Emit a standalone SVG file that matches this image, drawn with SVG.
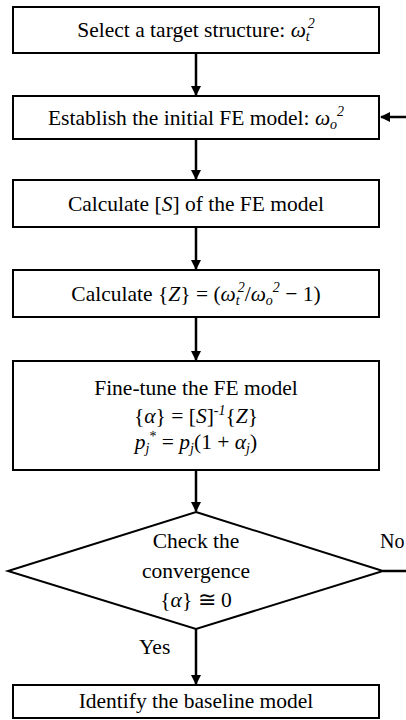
<svg xmlns="http://www.w3.org/2000/svg" width="406" height="720" viewBox="0 0 406 720">
<style>
.box{fill:#fff;stroke:#000;stroke-width:2}
.t{font-family:"Liberation Serif","Times New Roman",serif;font-size:21.5px;fill:#000;text-anchor:middle}
.tl{font-family:"Liberation Serif","Times New Roman",serif;font-size:21.5px;fill:#000}
.i{font-style:italic}
.s{font-size:14px}
.c{stroke:#000;stroke-width:2.5;fill:none}
</style>
<defs>
<marker id="ah" markerWidth="10" markerHeight="12" refX="9" refY="5" orient="auto" markerUnits="userSpaceOnUse">
<path d="M0,0 L10,5 L0,10 Z" fill="#000"/>
</marker>
</defs>
<rect width="406" height="720" fill="#fff"/>
<g id="connectors">
<line class="c" x1="196" y1="53" x2="196" y2="95" marker-end="url(#ah)"/>
<line class="c" x1="196" y1="139" x2="196" y2="179" marker-end="url(#ah)"/>
<line class="c" x1="196" y1="227" x2="196" y2="269" marker-end="url(#ah)"/>
<line class="c" x1="196" y1="317" x2="196" y2="360" marker-end="url(#ah)"/>
<line class="c" x1="196" y1="470" x2="196" y2="511" marker-end="url(#ah)"/>
<line class="c" x1="196" y1="629" x2="196" y2="684" marker-end="url(#ah)"/>
<line class="c" x1="383" y1="571" x2="406" y2="571"/>
<line class="c" x1="406" y1="117" x2="381" y2="117" marker-end="url(#ah)"/>
</g>
<g id="n1">
<rect class="box" x="13" y="7" width="366" height="46"/>
<text class="t" x="196" y="37">Select a target structure: <tspan class="i">ω</tspan><tspan class="i s" dy="4">t</tspan><tspan class="i s" dx="-2" dy="-13">2</tspan></text>
</g>
<g id="n2">
<rect class="box" x="13" y="96" width="366" height="43"/>
<text class="t" x="196" y="125">Establish the initial FE model: <tspan class="i">ω</tspan><tspan class="i s" dy="4">o</tspan><tspan class="i s" dy="-13">2</tspan></text>
</g>
<g id="n3">
<rect class="box" x="13" y="180" width="366" height="47"/>
<text class="t" x="196" y="211">Calculate [<tspan class="i">S</tspan>] of the FE model</text>
</g>
<g id="n4">
<rect class="box" x="13" y="270" width="366" height="47"/>
<text class="t" x="196" y="301">Calculate {<tspan class="i">Z</tspan>} = (<tspan class="i">ω</tspan><tspan class="i s" dy="4">t</tspan><tspan class="i s" dx="-2" dy="-13">2</tspan><tspan dy="9">/</tspan><tspan class="i">ω</tspan><tspan class="i s" dy="4">o</tspan><tspan class="i s" dy="-13">2</tspan><tspan dy="9"> − 1)</tspan></text>
</g>
<g id="n5">
<rect class="box" x="13" y="361" width="366" height="109"/>
<text class="t" x="196" y="395">Fine-tune the FE model</text>
<text class="t" x="196" y="423">{<tspan class="i">α</tspan>} = [<tspan class="i">S</tspan>]<tspan class="i s" dy="-8">-1</tspan><tspan dy="8">{</tspan><tspan class="i">Z</tspan>}</text>
<text class="t" x="196" y="449"><tspan class="i">p</tspan><tspan class="i s" dy="4">j</tspan><tspan class="s" dy="-12">*</tspan><tspan dy="8"> = </tspan><tspan class="i">p</tspan><tspan class="i s" dy="4">j</tspan><tspan dy="-4">(1 + </tspan><tspan class="i">α</tspan><tspan class="i s" dy="4">j</tspan><tspan dy="-4">)</tspan></text>
</g>
<g id="n6">
<polygon class="box" points="196,512 383,571 196,629 8,571"/>
<text class="t" x="196" y="548">Check the</text>
<text class="t" x="196" y="578">convergence</text>
<text class="t" x="196" y="607">{<tspan class="i">α</tspan>} ≅ 0</text>
</g>
<g id="n7">
<rect class="box" x="13" y="685" width="366" height="33"/>
<text class="t" x="196" y="708">Identify the baseline model</text>
</g>
<text class="tl" x="380" y="548" style="font-size:20px">No</text>
<text class="tl" x="139" y="654">Yes</text>
</svg>
